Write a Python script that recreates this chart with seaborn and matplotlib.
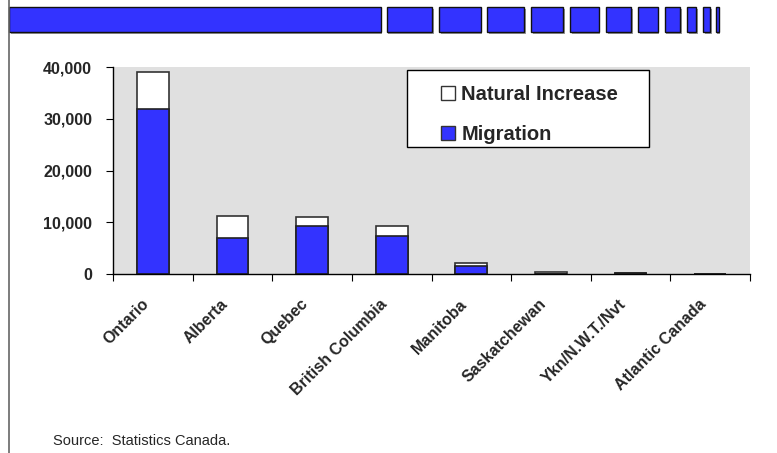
import matplotlib
matplotlib.use('Agg')
import matplotlib.pyplot as plt
from matplotlib.patches import Rectangle, Patch
from matplotlib.lines import Line2D
import matplotlib.ticker as mticker
import numpy as np
import pandas as pd
import seaborn as sns

# population growth by region, split into components
regions = ['Ontario', 'Alberta', 'Quebec', 'British Columbia', 'Manitoba',
           'Saskatchewan', 'Ykn/N.W.T./Nvt', 'Atlantic Canada']
migration = [31800, 6900, 9300, 7300, 1450, 0, 100, 0]
natural_increase = [7300, 4250, 1700, 2050, 750, 450, 150, 0]
y_ticks = [0, 10000, 20000, 30000, 40000]

df = pd.DataFrame({'region': regions,
                   'Migration': migration,
                   'Natural Increase': natural_increase})
df['total'] = df['Migration'] + df['Natural Increase']

BLUE = '#3333ff'
W, H = 777, 453

sns.set_style('ticks')
plt.rcParams['font.family'] = ['Liberation Sans', 'DejaVu Sans']

fig = plt.figure(figsize=(W / 100, H / 100), dpi=100)

# left frame line of the slide
fig.add_artist(Line2D([8.5 / W, 8.5 / W], [0, 1], color='#666666', lw=1.2,
                      transform=fig.transFigure))

# decorative header bar segments (x0, x1 in pixels)
header = [(9, 380.5), (386.5, 432), (439, 480.5), (487, 524), (531, 563),
          (570, 598.5), (606, 631), (638, 657.5), (664.5, 680), (687, 696),
          (703, 710), (715.5, 718.5)]
for x0, x1 in header:
    fig.add_artist(Rectangle((x0 / W + 1.5 / W, 1 - 33.5 / H), (x1 - x0) / W,
                             25 / H, transform=fig.transFigure,
                             facecolor='#999999', edgecolor='none'))
    fig.add_artist(Rectangle((x0 / W, 1 - 32 / H), (x1 - x0) / W, 25 / H,
                             transform=fig.transFigure, facecolor=BLUE,
                             edgecolor='#111111', lw=1))

ax = fig.add_axes([113 / W, 1 - 274 / H, (750 - 113) / W, (274 - 67) / H])
ax.set_facecolor('#e0e0e0')

sns.barplot(data=df, x='region', y='total', color='white', saturation=1,
            edgecolor='#333333', linewidth=1.2, width=0.4, ax=ax)
sns.barplot(data=df, x='region', y='Migration', color=BLUE, saturation=1,
            edgecolor='#222222', linewidth=1.2, width=0.4, ax=ax)

ax.set_ylim(0, 40000)
ax.set_xlim(-0.5, len(regions) - 0.5)
ax.set_yticks(y_ticks)
ax.yaxis.set_major_formatter(mticker.StrMethodFormatter('{x:,.0f}'))
for lab in ax.get_yticklabels():
    lab.set_fontweight('bold')
ax.tick_params(axis='y', labelsize=11.5, length=5, pad=10, color='black')

# tick marks between categories, labels (no marks) slightly left of centre
ax.set_xticks(np.arange(-0.5, len(regions), 1))
ax.set_xticklabels([])
ax.set_xticks(np.arange(len(regions)) - 0.15, minor=True)
ax.set_xticklabels(regions, minor=True, rotation=45, ha='right',
                   rotation_mode='anchor', fontweight='bold', fontsize=11.5)
ax.tick_params(axis='x', which='major', length=5, color='black')
ax.tick_params(axis='x', which='minor', length=0, pad=16)
ax.set_xlabel('')
ax.set_ylabel('')

for s in ['top', 'right']:
    ax.spines[s].set_visible(False)
for s in ['left', 'bottom']:
    ax.spines[s].set_color('black')
    ax.spines[s].set_linewidth(1)

# legend box
fig.add_artist(Rectangle((407 / W, 1 - 147 / H), 242 / W, 77 / H,
                         transform=fig.transFigure, facecolor='white',
                         edgecolor='black', lw=1, zorder=5))
handles = [Patch(facecolor='white', edgecolor='#333333', lw=1),
           Patch(facecolor=BLUE, edgecolor='#333333', lw=1)]
leg = fig.legend(handles, ['Natural Increase', 'Migration'],
                 loc='upper left', bbox_to_anchor=(427 / W, 1 - 70.5 / H),
                 frameon=False, prop={'weight': 'bold', 'size': 14.5},
                 handlelength=0.7, handleheight=0.7, handletextpad=0.3,
                 labelspacing=1.05, borderpad=0.2)
leg.set_zorder(6)

fig.text(53 / W, 1 - 445 / H, 'Source:  Statistics Canada.', fontsize=10.5,
         ha='left', va='baseline')

fig.savefig('out.png', dpi=100)
